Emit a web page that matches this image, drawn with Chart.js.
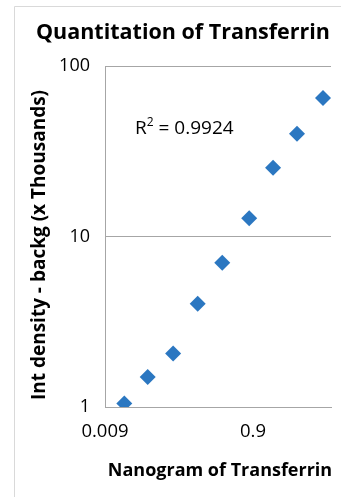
<!DOCTYPE html>
<html>
<head>
<meta charset="utf-8">
<script src="https://cdn.jsdelivr.net/npm/chart.js@4/dist/chart.umd.min.js"></script>
<style>
  html, body { margin: 0; padding: 0; background: #fff; }
  canvas { display: block; }
</style>
</head>
<body>
<canvas id="myChart" width="341" height="497"></canvas>
<script>
// nanogram of transferrin (x) vs int density - backg in thousands (y)
const nanograms = [0.0164, 0.034, 0.075, 0.161, 0.346, 0.80, 1.68, 3.54, 7.95];
const densities = [1.05, 1.50, 2.06, 4.03, 7.01, 12.8, 25.3, 40.0, 65.0];
const xTicks = [0.009, 0.9];
const yTicks = [1, 10, 100];
const rSquared = '0.9924';

const chartTitle = 'Quantitation of Transferrin';
const xTitle = 'Nanogram of Transferrin';
const yTitle = 'Int density - backg (x Thousands)';

const FONT = '"Open Sans", sans-serif';

const points = nanograms.map((x, i) => ({ x: x, y: densities[i] }));

// border of the chart box, titles and the R² label
const textPlugin = {
  id: 'texts',
  beforeDraw(chart) {
    const ctx = chart.ctx;
    ctx.save();
    ctx.strokeStyle = '#d9d9d9';
    ctx.lineWidth = 1;
    ctx.beginPath();
    ctx.moveTo(14.5, 497);
    ctx.lineTo(14.5, 6.5);
    ctx.lineTo(341, 6.5);
    ctx.stroke();
    ctx.restore();
  },
  afterDraw(chart) {
    const ctx = chart.ctx;
    ctx.save();
    ctx.fillStyle = '#000';
    ctx.textBaseline = 'middle';
    ctx.textAlign = 'center';

    ctx.font = 'bold 21.5px ' + FONT;
    ctx.fillText(chartTitle, 183, 33);

    ctx.font = 'bold 18px ' + FONT;
    ctx.fillText(xTitle, 220, 471);

    ctx.font = 'bold 19px ' + FONT;
    ctx.translate(40, 245);
    ctx.rotate(-Math.PI / 2);
    ctx.fillText(yTitle, 0, 0);
    ctx.restore();

    ctx.save();
    ctx.fillStyle = '#000';
    ctx.textBaseline = 'alphabetic';
    ctx.textAlign = 'left';
    ctx.font = '19px ' + FONT;
    let x = 135;
    ctx.fillText('R', x, 134);
    x += ctx.measureText('R').width;
    ctx.font = '12px ' + FONT;
    ctx.fillText('2', x, 126);
    x += ctx.measureText('2').width;
    ctx.font = '19px ' + FONT;
    ctx.fillText(' = ' + rSquared, x, 134);
    ctx.restore();
  }
};

const config = {
  type: 'scatter',
  data: {
    datasets: [{
      label: 'Transferrin',
      data: points,
      backgroundColor: '#2b77c1',
      borderColor: '#2b77c1',
      borderWidth: 0,
      pointStyle: 'rectRot',
      pointRadius: 8,
      pointHoverRadius: 8
    }]
  },
  options: {
    responsive: false,
    animation: false,
    layout: { padding: { top: 66, right: 10, bottom: 0, left: 0 } },
    plugins: {
      legend: { display: false },
      tooltip: { enabled: false }
    },
    scales: {
      x: {
        type: 'logarithmic',
        min: 0.009,
        max: 10.2,
        afterBuildTicks: (scale) => { scale.ticks = xTicks.map(v => ({ value: v })); },
        afterFit: (scale) => { scale.height = 90; },
        grid: { display: false, drawTicks: false },
        border: { display: true, color: '#a6a6a6' },
        ticks: {
          padding: 14,
          color: '#000',
          maxRotation: 0,
          font: { family: FONT, size: 18.5 },
          callback: (v) => String(v)
        }
      },
      y: {
        type: 'logarithmic',
        min: 1,
        max: 100,
        afterBuildTicks: (scale) => { scale.ticks = yTicks.map(v => ({ value: v })); },
        afterFit: (scale) => { scale.width = 105; },
        grid: { color: '#a6a6a6', drawTicks: false },
        border: { display: true, color: '#a6a6a6' },
        ticks: {
          padding: 15,
          color: '#000',
          font: { family: FONT, size: 18 },
          callback: (v) => String(v)
        }
      }
    }
  },
  plugins: [textPlugin]
};

const myChart = new Chart(document.getElementById('myChart'), config);
</script>
</body>
</html>
